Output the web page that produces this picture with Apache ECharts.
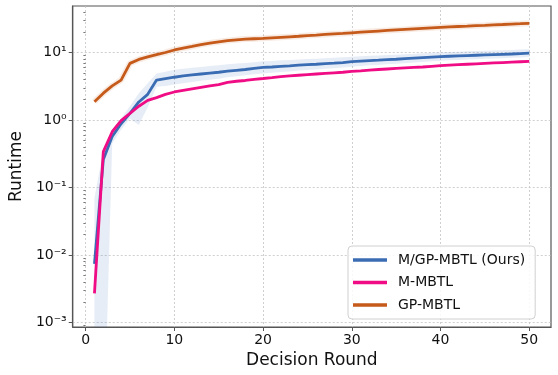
<!DOCTYPE html>
<html>
<head>
<meta charset="utf-8">
<script src="https://cdn.jsdelivr.net/npm/echarts@6/dist/echarts.min.js"></script>
<style>
  html, body { margin: 0; padding: 0; background: #fff; }
  #main { width: 558px; height: 375px; }
</style>
</head>
<body>
<div id="main"></div>
<script>
// decision rounds 1..50
let rounds = [];
for (let i = 1; i <= 50; i++) rounds.push(i);

let seriesNames = ['M/GP-MBTL (Ours)', 'M-MBTL', 'GP-MBTL'];

// runtime values
let oursMean = [0.0074, 0.26, 0.57, 0.88, 1.25, 1.85, 2.4, 3.9, 4.1, 4.3,
    4.5, 4.65, 4.8, 4.95, 5.1, 5.3, 5.45, 5.6, 5.8, 6.0,
    6.1, 6.25, 6.35, 6.5, 6.6, 6.7, 6.85, 6.95, 7.1, 7.3,
    7.45, 7.6, 7.7, 7.85, 7.95, 8.1, 8.25, 8.4, 8.55, 8.7,
    8.8, 8.9, 9.0, 9.1, 9.2, 9.3, 9.4, 9.5, 9.65, 9.8];
let oursLow = [0.00001, 0.00001, 0.45, 0.72, 1.05, 0.84, 1.55, 3.1, 3.2, 3.35,
    3.5, 3.65, 3.8, 3.95, 4.1, 4.3, 4.45, 4.6, 4.75, 4.9,
    5.0, 5.15, 5.25, 5.4, 5.5, 5.6, 5.75, 5.85, 6.0, 6.15,
    6.3, 6.45, 6.55, 6.7, 6.8, 6.95, 7.1, 7.25, 7.4, 7.55,
    7.65, 7.75, 7.85, 7.95, 8.05, 8.15, 8.25, 8.35, 8.45, 8.55];
let oursHigh = [0.07, 0.36, 0.72, 1.05, 1.6, 2.5, 3.5, 4.9, 5.2, 5.55,
    5.75, 5.95, 6.1, 6.3, 6.5, 6.7, 6.85, 7.0, 7.2, 7.4,
    7.5, 7.65, 7.75, 7.9, 8.0, 8.1, 8.25, 8.35, 8.5, 8.65,
    8.8, 8.95, 9.05, 9.2, 9.3, 9.45, 9.6, 9.75, 9.9, 10.05,
    10.15, 10.25, 10.4, 10.5, 10.6, 10.7, 10.8, 10.9, 11.05, 11.2];
let mMbtl = [0.0027, 0.34, 0.67, 0.98, 1.25, 1.6, 1.95, 2.15, 2.4, 2.6,
    2.75, 2.9, 3.05, 3.2, 3.35, 3.6, 3.75, 3.85, 4.0, 4.12,
    4.25, 4.4, 4.5, 4.6, 4.7, 4.8, 4.9, 5.0, 5.1, 5.25,
    5.35, 5.5, 5.6, 5.7, 5.8, 5.9, 6.0, 6.1, 6.25, 6.4,
    6.5, 6.6, 6.7, 6.8, 6.9, 7.0, 7.1, 7.2, 7.3, 7.4];
let gpMbtl = [1.87, 2.5, 3.2, 3.9, 6.9, 7.9, 8.6, 9.3, 10.0, 10.9,
    11.6, 12.3, 13.1, 13.8, 14.4, 15.0, 15.4, 15.8, 16.0, 16.2,
    16.5, 16.8, 17.1, 17.4, 17.8, 18.1, 18.5, 18.9, 19.2, 19.6,
    20.0, 20.4, 20.8, 21.2, 21.6, 22.0, 22.4, 22.8, 23.2, 23.6,
    24.0, 24.3, 24.6, 25.0, 25.3, 25.7, 26.0, 26.4, 26.7, 27.1];

let xTicks = [0, 10, 20, 30, 40, 50];
let yTickExps = [-3, -2, -1, 0, 1];
let yTickLabels = ['10\u207B\u00B3', '10\u207B\u00B2', '10\u207B\u00B9', '10\u2070', '10\u00B9'];

let colors = ['#3a6cb4', '#f00c84', '#c55a1a'];
let font = 'DejaVu Sans';

// log axis emulated on a value axis (log10 of each runtime)
function lg(v) { return Math.log10(v); }
function pairs(vals) { return rounds.map((r, i) => [r, lg(vals[i])]); }

let yMin = -3.067, yMax = 1.689;
let minorTicks = [];
for (let e = -4; e <= 1; e++) {
    for (let k = 2; k <= 9; k++) {
        let v = Math.log10(k) + e;
        if (v > yMin && v < yMax) minorTicks.push(v);
    }
}

let frame = '#555';
let grid = { type: [2, 2], color: '#c4c4c4', width: 0.8 };

// shaded band: one polygon through upper points then back along lower points
function renderBand(params, api) {
    if (params.dataIndex !== 0) return null;
    let pts = [];
    for (let i = 0; i < rounds.length; i++) pts.push(api.coord([rounds[i], lg(oursHigh[i])]));
    for (let i = rounds.length - 1; i >= 0; i--) pts.push(api.coord([rounds[i], lg(oursLow[i])]));
    return {
        type: 'polygon',
        shape: { points: pts },
        style: { fill: colors[0], opacity: 0.12 },
        silent: true
    };
}

let options = {
    animation: false,
    backgroundColor: '#fff',
    grid: { left: 68, right: 7, top: 6, bottom: 48, show: true, borderColor: frame, borderWidth: 1.2 },
    legend: {
        data: seriesNames,
        left: 348, top: 246, orient: 'vertical',
        icon: 'rect', itemWidth: 34, itemHeight: 3.5, itemGap: 8.5,
        padding: [7, 10, 7, 5],
        backgroundColor: 'rgba(255,255,255,0.85)', borderColor: '#d0d0d0', borderWidth: 1, borderRadius: 4,
        textStyle: { fontFamily: font, fontSize: 14, color: '#111', lineHeight: 14, padding: [0, 0, 0, 6] }
    },
    xAxis: {
        type: 'value', min: -1.45, max: 52.45,
        name: 'Decision Round', nameLocation: 'middle', nameGap: 23,
        nameTextStyle: { fontFamily: font, fontSize: 17, color: '#111', verticalAlign: 'top' },
        axisLine: { show: true, onZero: false, lineStyle: { color: frame, width: 1.2 } },
        axisTick: { show: true, length: 4, customValues: xTicks, lineStyle: { color: frame } },
        axisLabel: { customValues: xTicks, fontFamily: font, fontSize: 14, color: '#111', margin: 6 },
        splitLine: { show: true, lineStyle: grid }
    },
    yAxis: [{
        type: 'value', min: yMin, max: yMax,
        name: 'Runtime', nameLocation: 'middle', nameGap: 45,
        nameTextStyle: { fontFamily: font, fontSize: 17, color: '#111' },
        axisLine: { show: true, onZero: false, lineStyle: { color: frame, width: 1.2 } },
        axisTick: { show: true, length: 4, customValues: yTickExps, lineStyle: { color: frame } },
        axisLabel: {
            customValues: yTickExps, fontFamily: font, fontSize: 14, color: '#111', margin: 6,
            formatter: v => yTickLabels[yTickExps.indexOf(Math.round(v))]
        },
        splitLine: { show: true, lineStyle: grid }
    }, {
        // minor log ticks only
        type: 'value', min: yMin, max: yMax, position: 'left',
        axisLine: { show: false },
        axisTick: { show: true, length: 2.2, customValues: minorTicks, lineStyle: { color: frame, width: 0.8 } },
        axisLabel: { show: false },
        splitLine: { show: false }
    }],
    series: [
        {
            name: 'band', type: 'custom', renderItem: renderBand, clip: true, silent: true,
            data: pairs(oursMean), encode: { x: 0, y: 1 }, z: 1
        },
        {
            name: 'gp-halo', type: 'line', data: pairs(gpMbtl), showSymbol: false, silent: true,
            lineStyle: { color: colors[2], width: 6, opacity: 0.12 }
        },
        {
            name: seriesNames[0], type: 'line', data: pairs(oursMean), showSymbol: false,
            color: colors[0], lineStyle: { color: colors[0], width: 2.8 }
        },
        {
            name: seriesNames[1], type: 'line', data: pairs(mMbtl), showSymbol: false,
            color: colors[1], lineStyle: { color: colors[1], width: 2.8 }
        },
        {
            name: seriesNames[2], type: 'line', data: pairs(gpMbtl), showSymbol: false,
            color: colors[2], lineStyle: { color: colors[2], width: 2.8 }
        }
    ]
};

let myChart = echarts.init(document.getElementById('main'), null, { renderer: 'canvas' });
myChart.setOption(options);
</script>
</body>
</html>
